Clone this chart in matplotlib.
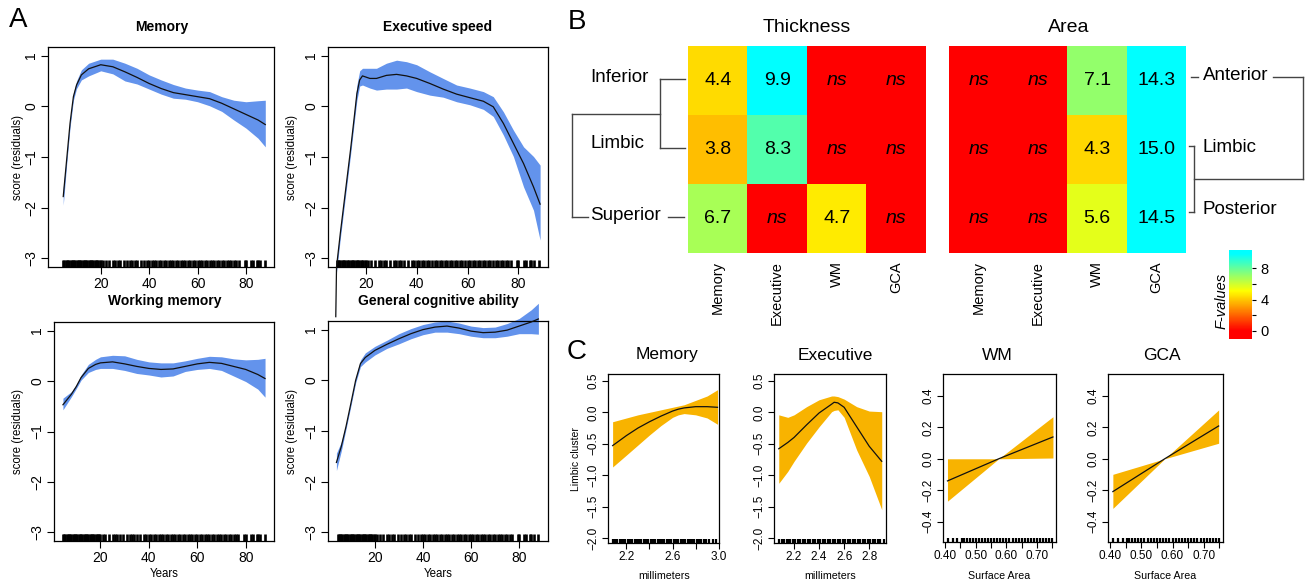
import numpy as np
import matplotlib
matplotlib.use('Agg')
import matplotlib.pyplot as plt
from matplotlib.colors import LinearSegmentedColormap
from matplotlib.cm import ScalarMappable
from matplotlib.colors import Normalize

plt.rcParams['font.family'] = ['Liberation Sans', 'DejaVu Sans']

W, H = 1308, 582

# ---------------- panel A: lifespan trajectories ----------------
mem_age = [4.5, 5.9, 7.3, 8.0, 8.7, 10, 12, 15, 20, 25, 30, 35, 40, 45, 50, 55, 60, 65, 70, 75, 80, 85, 88]
mem_fit = [-1.78, -1.06, -0.34, -0.07, 0.19, 0.42, 0.62, 0.74, 0.82, 0.78, 0.68, 0.57, 0.45, 0.35, 0.27,
           0.23, 0.19, 0.15, 0.06, -0.05, -0.16, -0.27, -0.36]
mem_lo = [-1.95, -1.15, -0.42, -0.15, 0.12, 0.35, 0.52, 0.60, 0.70, 0.64, 0.50, 0.44, 0.34, 0.24, 0.16,
          0.14, 0.09, 0.01, -0.10, -0.27, -0.43, -0.63, -0.80]
mem_hi = [-1.60, -0.97, -0.26, 0.00, 0.26, 0.50, 0.72, 0.85, 0.93, 0.93, 0.85, 0.75, 0.62, 0.52, 0.43,
          0.36, 0.32, 0.29, 0.19, 0.12, 0.09, 0.11, 0.12]

exe_age = [8.2, 8.5, 10, 12, 14, 15.5, 16.5, 17.6, 18.7, 21.6, 24.2, 28.1, 32.1, 36, 40, 45.2, 50.4, 55.7,
           60.9, 66.2, 70.1, 74.1, 78, 82, 85.9, 88.5]
exe_fit = [-4.15, -3.17, -2.5, -1.68, -0.86, -0.2, 0.25, 0.52, 0.60, 0.55, 0.55, 0.61, 0.63, 0.60, 0.55,
           0.45, 0.34, 0.24, 0.17, 0.10, -0.01, -0.34, -0.73, -1.13, -1.59, -1.93]
exe_lo = [-4.2, -3.27, -2.6, -1.78, -0.96, -0.30, 0.12, 0.40, 0.42, 0.36, 0.32, 0.34, 0.34, 0.36, 0.29,
          0.22, 0.18, 0.09, 0.03, -0.06, -0.20, -0.57, -0.99, -1.59, -2.05, -2.64]
exe_hi = [-4.1, -3.07, -2.4, -1.58, -0.76, -0.08, 0.42, 0.70, 0.75, 0.75, 0.75, 0.85, 0.91, 0.88, 0.82,
          0.68, 0.55, 0.42, 0.36, 0.29, 0.19, -0.11, -0.47, -0.80, -0.99, -1.16]

wm_age = [4.5, 8, 10, 12, 15, 18, 20, 25, 30, 35, 40, 45, 50, 55, 60, 65, 70, 75, 80, 85, 88]
wm_fit = [-0.47, -0.26, -0.11, 0.07, 0.25, 0.33, 0.36, 0.38, 0.34, 0.29, 0.25, 0.23, 0.24, 0.29, 0.34,
          0.37, 0.35, 0.29, 0.23, 0.13, 0.05]
wm_lo = [-0.57, -0.31, -0.15, 0.02, 0.17, 0.23, 0.25, 0.25, 0.21, 0.15, 0.12, 0.08, 0.10, 0.19, 0.23,
         0.25, 0.21, 0.10, -0.01, -0.16, -0.32]
wm_hi = [-0.34, -0.21, -0.07, 0.12, 0.33, 0.43, 0.48, 0.51, 0.50, 0.43, 0.38, 0.36, 0.36, 0.40, 0.45,
         0.49, 0.48, 0.44, 0.42, 0.43, 0.45]

gca_age = [4.0, 6, 8, 10, 12, 14, 16, 20, 25, 30, 35, 40, 45, 50, 55, 60, 65, 70, 75, 80, 85, 88]
gca_fit = [-1.62, -1.31, -0.91, -0.46, 0.00, 0.33, 0.45, 0.59, 0.71, 0.82, 0.92, 1.00, 1.05, 1.07, 1.03,
           0.97, 0.94, 0.95, 0.99, 1.07, 1.15, 1.21]
gca_lo = [-1.78, -1.40, -0.96, -0.51, -0.05, 0.27, 0.36, 0.50, 0.63, 0.72, 0.82, 0.90, 0.95, 0.95, 0.92,
          0.87, 0.84, 0.84, 0.87, 0.92, 0.92, 0.91]
gca_hi = [-1.44, -1.22, -0.86, -0.41, 0.05, 0.40, 0.54, 0.67, 0.79, 0.92, 1.02, 1.10, 1.15, 1.17, 1.13,
          1.07, 1.04, 1.05, 1.12, 1.22, 1.39, 1.52]

age_rug = [4.5, 5, 5.5, 6, 6.5, 7, 7.5, 8, 8.5, 9, 9.5, 10, 10.5, 11, 11.5, 12, 12.5, 13, 13.5, 14, 14.5,
           15, 15.5, 16, 16.5, 17, 17.5, 18, 18.5, 19, 19.5, 20, 21, 22, 23.5, 25, 26, 27, 28, 29.5, 31,
           32, 33, 34, 35, 36.5, 38, 39, 40, 41, 42, 43, 44, 45, 46, 47, 48, 49, 50, 51, 52, 53, 54, 55,
           56, 57, 58, 59, 60, 61, 62, 63, 64, 65, 66, 67, 68, 69, 70, 71, 72, 73, 74, 75, 76, 77, 79.5,
           80, 82, 83, 84.5, 85, 86, 88]

# ---------------- panel B: F-values (None = ns) ----------------
heat_cols = ['Memory', 'Executive', 'WM', 'GCA']
thick_rows = ['Inferior', 'Limbic', 'Superior']
thick_F = [[4.4, 9.9, None, None],
           [3.8, 8.3, None, None],
           [6.7, None, 4.7, None]]
area_rows = ['Anterior', 'Limbic', 'Posterior']
area_F = [[None, None, 7.1, 14.3],
          [None, None, 4.3, 15.0],
          [None, None, 5.6, 14.5]]
cbar_ticks = [0, 2, 4, 6, 8]
cbar_labels = ['0', '', '4', '', '8']

# ---------------- panel C: limbic cluster effects ----------------
cmem_x = [2.08, 2.2, 2.3, 2.4, 2.5, 2.6, 2.65, 2.7, 2.8, 2.9, 2.99]
cmem_fit = [-0.53, -0.37, -0.25, -0.15, -0.06, 0.02, 0.05, 0.07, 0.09, 0.09, 0.08]
cmem_lo = [-0.87, -0.68, -0.52, -0.36, -0.21, -0.08, -0.04, -0.02, -0.04, -0.09, -0.19]
cmem_hi = [-0.15, -0.09, -0.04, 0.00, 0.04, 0.08, 0.10, 0.12, 0.19, 0.26, 0.36]

cexe_x = [2.078, 2.15, 2.2, 2.3, 2.4, 2.5, 2.52, 2.55, 2.6, 2.7, 2.8, 2.9]
cexe_fit = [-0.58, -0.48, -0.40, -0.20, -0.01, 0.13, 0.16, 0.15, 0.08, -0.23, -0.54, -0.78]
cexe_lo = [-1.13, -0.94, -0.78, -0.49, -0.23, 0.01, 0.03, 0.04, -0.08, -0.60, -1.02, -1.55]
cexe_hi = [-0.04, -0.08, -0.04, 0.09, 0.20, 0.26, 0.26, 0.25, 0.21, 0.09, 0.02, 0.01]

cwm_x = [0.4076, 0.575, 0.752]
cwm_fit = [-0.141, 0.0, 0.139]
cwm_lo = [-0.27, 0.0, 0.005]
cwm_hi = [0.0, 0.0, 0.268]

cgca_x = [0.4086, 0.575, 0.748]
cgca_fit = [-0.209, 0.0, 0.209]
cgca_lo = [-0.316, 0.0, 0.099]
cgca_hi = [-0.099, 0.0, 0.311]

thick_rug = [2.08, 2.1, 2.12, 2.14, 2.15, 2.17, 2.19, 2.21, 2.23, 2.25, 2.27, 2.29, 2.31, 2.33, 2.35,
             2.37, 2.39, 2.41, 2.43, 2.45, 2.47, 2.49, 2.51, 2.53, 2.55, 2.57, 2.59, 2.61, 2.63, 2.65,
             2.67, 2.69, 2.71, 2.73, 2.75, 2.77, 2.79, 2.81, 2.83, 2.85, 2.87, 2.89, 2.92, 2.95, 2.98]
area_rug = [0.41, 0.425, 0.44, 0.455, 0.46, 0.47, 0.48, 0.49, 0.5, 0.51, 0.52, 0.53, 0.54, 0.55, 0.56,
            0.57, 0.58, 0.59, 0.6, 0.61, 0.62, 0.63, 0.64, 0.65, 0.66, 0.67, 0.68, 0.69, 0.7, 0.71,
            0.72, 0.73, 0.74, 0.75]

BLUE = '#6393EC'
ORANGE = '#F8B300'


def box(x0, y0, x1, y1):
    return [x0 / W, 1 - y1 / H, (x1 - x0) / W, (y1 - y0) / H]


def base_style(ax, fs, ticklen=5):
    for s in ax.spines.values():
        s.set_linewidth(0.9)
    ax.tick_params(direction='out', length=ticklen, width=0.8, labelsize=fs, pad=2)
    ax.tick_params(axis='y', labelrotation=90)
    for lab in ax.get_yticklabels():
        lab.set_va('center')


fig = plt.figure(figsize=(W / 100, H / 100), dpi=100)

# ---- A ----
a_specs = [
    ((48, 47, 274, 267), (-1.8, 91.6), mem_age, mem_fit, mem_lo, mem_hi, 4.0, True),
    ((328, 47, 548, 267), (5.15, 91.6), exe_age, exe_fit, exe_lo, exe_hi, 8.5, False),
    ((54, 322, 274, 541), (0.8, 91.7), wm_age, wm_fit, wm_lo, wm_hi, 4.0, True),
    ((328, 321, 548, 541), (0.5, 92.0), gca_age, gca_fit, gca_lo, gca_hi, 4.0, False),
]
for (b, xl, ag, ft, lo, hi, rmin, clip) in a_specs:
    ax = fig.add_axes(box(*b))
    ax.fill_between(ag, lo, hi, color=BLUE, lw=0, clip_on=clip, zorder=2)
    ax.plot(ag, ft, color='#111111', lw=0.9, clip_on=clip, zorder=3)
    rug = [a for a in age_rug if a >= rmin]
    ax.vlines(rug, 0, 0.032, transform=ax.get_xaxis_transform(), color='k', lw=1.9)
    ax.set_xlim(*xl)
    ax.set_ylim(-3.17, 1.17)
    ax.set_xticks([20, 40, 60, 80])
    ax.set_yticks([-3, -2, -1, 0, 1])
    ax.set_yticklabels(['\u22123', '\u22122', '\u22121', '0', '1'])
    base_style(ax, 10)

# ---- B ----
cmap = LinearSegmentedColormap.from_list(
    'fv', [(0.0, '#FF0000'), (0.093, '#FF0000'), (0.54, '#FFFF00'), (0.96, '#00FFFF'), (1.0, '#00FFFF')])
cmap.set_bad('#FF0000')
cmap.set_over('#00FFFF')
norm = Normalize(vmin=-1.06, vmax=10.35)

for b, F in [((688, 46, 926, 253), thick_F), ((949, 46, 1186, 253), area_F)]:
    ax = fig.add_axes(box(*b))
    vals = np.ma.masked_invalid(np.array([[np.nan if v is None else v for v in r] for r in F], float))
    ax.imshow(vals, cmap=cmap, norm=norm, aspect='auto', interpolation='nearest')
    for i, r in enumerate(F):
        for j, v in enumerate(r):
            if v is None:
                ax.text(j, i, 'ns', ha='center', va='center', fontsize=14, style='italic')
            else:
                ax.text(j, i, f'{v:.1f}', ha='center', va='center', fontsize=14)
    for j, c in enumerate(heat_cols):
        ax.text(j, 2.62, c, rotation=90, ha='center', va='top', fontsize=10.5)
    ax.axis('off')

cax = fig.add_axes(box(1229, 250, 1252, 339))
cb = fig.colorbar(ScalarMappable(norm=norm, cmap=cmap), cax=cax)
cb.outline.set_visible(False)
cb.set_ticks(cbar_ticks)
cb.set_ticklabels(cbar_labels)
cax.tick_params(length=3, width=0.8, labelsize=10.5, pad=3)

# ---- C ----
c_specs = [
    ((608, 374, 719, 543), (2.04, 3.003), (-2.08, 0.61), cmem_x, cmem_fit, cmem_lo, cmem_hi, thick_rug,
     [2.2, 2.4, 2.6, 2.8, 3.0], ['2.2', '', '2.6', '', '3.0']),
    ((774, 374, 886, 543), (2.04, 2.934), (-2.08, 0.61), cexe_x, cexe_fit, cexe_lo, cexe_hi,
     [t for t in thick_rug if t <= 2.92], [2.2, 2.4, 2.6, 2.8], ['2.2', '2.4', '2.6', '2.8']),
    ((943, 374, 1056, 542), (0.393, 0.762), (-0.53, 0.54), cwm_x, cwm_fit, cwm_lo, cwm_hi, area_rug,
     [0.40, 0.45, 0.50, 0.55, 0.60, 0.65, 0.70, 0.75], ['0.40', '', '0.50', '', '0.60', '', '0.70', '']),
    ((1108, 374, 1223, 542), (0.393, 0.762), (-0.53, 0.54), cgca_x, cgca_fit, cgca_lo, cgca_hi, area_rug,
     [0.40, 0.45, 0.50, 0.55, 0.60, 0.65, 0.70, 0.75], ['0.40', '', '0.50', '', '0.60', '', '0.70', '']),
]
for k, (b, xl, yl, x, ft, lo, hi, rug, xt, xtl) in enumerate(c_specs):
    ax = fig.add_axes(box(*b))
    ax.fill_between(x, lo, hi, color=ORANGE, lw=0, zorder=2)
    ax.plot(x, ft, color='#111111', lw=0.9, zorder=3)
    ax.vlines(rug, 0, 0.025, transform=ax.get_xaxis_transform(), color='k', lw=1.6)
    ax.set_xlim(*xl)
    ax.set_ylim(*yl)
    ax.set_xticks(xt)
    ax.set_xticklabels(xtl)
    if k < 2:
        yt = [-2.0, -1.5, -1.0, -0.5, 0.0, 0.5]
    else:
        yt = [-0.4, -0.2, 0.0, 0.2, 0.4]
    ax.set_yticks(yt)
    ax.set_yticklabels([f'{v:.1f}'.replace('-', '\u2212') for v in yt])
    base_style(ax, 8.5, ticklen=4)

# ---- overlay for labels and dendrograms (pixel coordinates) ----
ov = fig.add_axes([0, 0, 1, 1])
ov.set_xlim(0, W)
ov.set_ylim(H, 0)
ov.axis('off')
ov.patch.set_alpha(0)

ov.text(18, 20, 'A', fontsize=20, ha='center', va='center')
ov.text(577, 22, 'B', fontsize=20, ha='center', va='center')
ov.text(577, 352, 'C', fontsize=20, ha='center', va='center')

for x, y, t in [(162, 27, 'Memory'), (438, 27, 'Executive speed'),
                (165, 301, 'Working memory'), (438, 301, 'General cognitive ability')]:
    ov.text(x, y, t, fontsize=10, fontweight='bold', ha='center', va='center')
for x, y in [(18, 157), (292, 157), (18, 431), (292, 431)]:
    ov.text(x, y, 'score (residuals)', fontsize=8.3, rotation=90, ha='center', va='center')
for x in [164, 438]:
    ov.text(x, 574, 'Years', fontsize=8.3, ha='center', va='center')

ov.text(807, 27, 'Thickness', fontsize=14, ha='center', va='center')
ov.text(1069, 27, 'Area', fontsize=14, ha='center', va='center')
for y, t in zip([78, 144, 216], thick_rows):
    ov.text(590, y, t, fontsize=13.5, ha='left', va='center')
for y, t in zip([76, 147, 210], area_rows):
    ov.text(1203, y, t, fontsize=13.5, ha='left', va='center')
ov.text(1222, 301, 'F-values', fontsize=10.5, style='italic', rotation=90, ha='center', va='center')

dend = [((660, 79), (685, 79)), ((660, 79), (660, 148)), ((660, 148), (685, 148)),
        ((572, 114), (660, 114)), ((572, 114), (572, 217)), ((572, 217), (588, 217)),
        ((668, 217), (684, 217)),
        ((1191, 77), (1198, 77)), ((1273, 77), (1303, 77)), ((1303, 77), (1303, 179)),
        ((1194, 179), (1303, 179)), ((1194, 146), (1194, 212)), ((1189, 146), (1194, 146)),
        ((1189, 212), (1194, 212))]
for (xa, ya), (xb, yb) in dend:
    ov.plot([xa, xb], [ya, yb], color='#444444', lw=1.0)

for x, y, t in [(667, 355, 'Memory'), (835, 355, 'Executive'), (997, 355, 'WM'), (1162, 355, 'GCA')]:
    ov.text(x, y, t, fontsize=12.5, ha='center', va='center')
ov.text(576, 459, 'Limbic cluster', fontsize=7.5, rotation=90, ha='center', va='center')
for x, t in [(664, 'millimeters'), (830, 'millimeters'), (999, 'Surface Area'), (1165, 'Surface Area')]:
    ov.text(x, 576, t, fontsize=7.7, ha='center', va='center')

fig.savefig('out.png', dpi=100)
